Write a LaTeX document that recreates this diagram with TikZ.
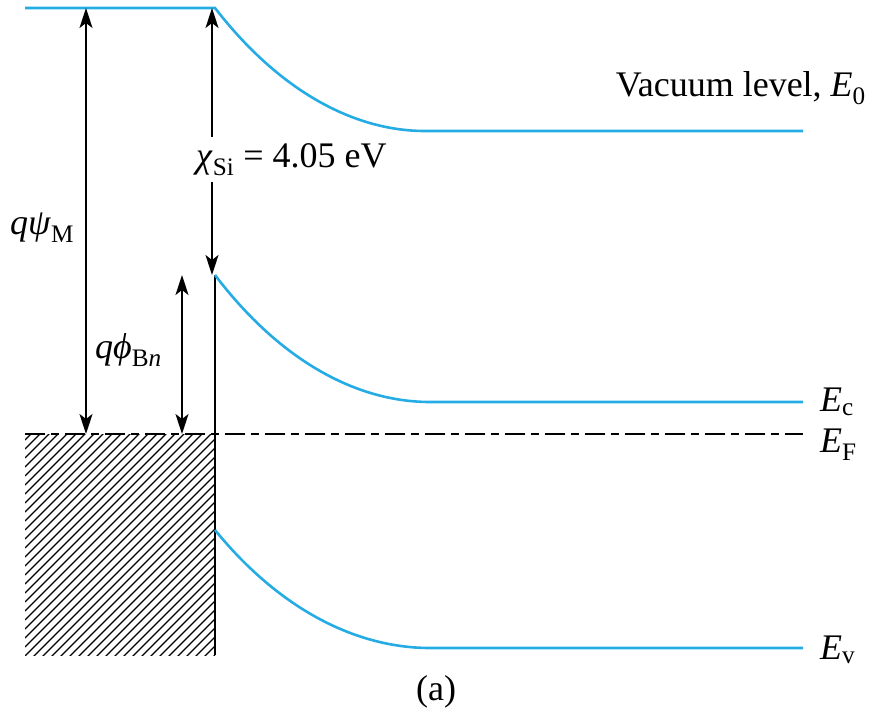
\documentclass[tikz,border=0pt]{standalone}
\usepackage{fontspec}
\setmainfont{Liberation Serif}
\usetikzlibrary{arrows.meta}
\definecolor{band}{RGB}{38,172,228}
\tikzset{
  bandline/.style={band, line width=2.6pt},
  tipA/.tip={Stealth[length=20pt,width=13pt,inset=5pt]},
  dimarrow/.style={line width=1.6pt, tipA-tipA},
  dimhead/.style={line width=1.6pt, -tipA},
  dimtail/.style={line width=1.6pt, tipA-},
  lbl/.style={inner sep=0pt, font=\fontsize{36}{42}\selectfont},
}
\begin{document}
\begin{tikzpicture}[x=1pt,y=-1pt]
\useasboundingbox (0,0) rectangle (872,725);
% coordinates
\coordinate (mtl) at (25,8);
\coordinate (mtr) at (215,8);
\coordinate (vac) at (425,131);
\coordinate (vacR) at (803,131);
\coordinate (ecL) at (215,275);
\coordinate (ec) at (430,402);
\coordinate (ecR) at (803,402);
\coordinate (evL) at (215,530);
\coordinate (ev) at (430,648);
\coordinate (evR) at (803,648);
\coordinate (efL) at (25,434);
\coordinate (efR) at (803,434);
\coordinate (bot) at (215,655);
\coordinate (psiT) at (86,8);
\coordinate (psiB) at (86,434);
\coordinate (chiT) at (212,8);
\coordinate (chiM1) at (212,137);
\coordinate (chiM2) at (212,182);
\coordinate (chiB) at (212,275);
\coordinate (phiT) at (182,275);
\coordinate (phiB) at (182,434);
% hatched metal
\begin{scope}
\clip (25,434) rectangle (215,655);
\foreach \c in {-200,-191,...,700}{
  \draw[line width=1.3pt] (25,\c+190) -- (215,\c);
}
\end{scope}
% interface line
\draw[line width=1.6pt] (ecL) -- (bot);
% bands
\draw[bandline] (mtl) -- (mtr) .. controls (280,92) and (355,131) .. (vac) -- (vacR);
\draw[bandline] (ecL) .. controls (281,362) and (358,402) .. (ec) -- (ecR);
\draw[bandline] (evL) .. controls (281,611) and (358,648) .. (ev) -- (evR);
% Fermi level
\draw[line width=2.8pt, dash pattern=on 20pt off 6pt on 8pt off 6pt] (efL) -- (efR);
% labels
\node[lbl, anchor=east] (vacl) at (866,88) {Vacuum level, \textit{E}\textsubscript{0}};
\node[lbl, anchor=west] (ecl) at (820,402) {\textit{E}\textsubscript{c}};
\node[lbl, anchor=west] (efl) at (820,445) {\textit{E}\textsubscript{F}};
\node[lbl, anchor=west] (evl) at (820,650) {\textit{E}\textsubscript{v}};
\node[lbl] (cap) at (436,692) {(a)};
\node[lbl, anchor=west] (psil) at (10,228) {\textit{qψ}\textsubscript{M}};
\node[lbl, anchor=west] (phil) at (95,350) {\textit{qϕ}\textsubscript{B\textit{n}}};
\node[lbl, anchor=west] (chil) at (196,160) {\textit{χ}\textsubscript{Si} {=} 4.05 eV};
% arrows
\draw[dimarrow] (psiT) -- (psiB);
\draw[dimarrow] (phiT) -- (phiB);
\draw[dimtail] (chiT) -- (chiM1);
\draw[dimhead] (chiM2) -- (chiB);
\end{tikzpicture}
\end{document}
